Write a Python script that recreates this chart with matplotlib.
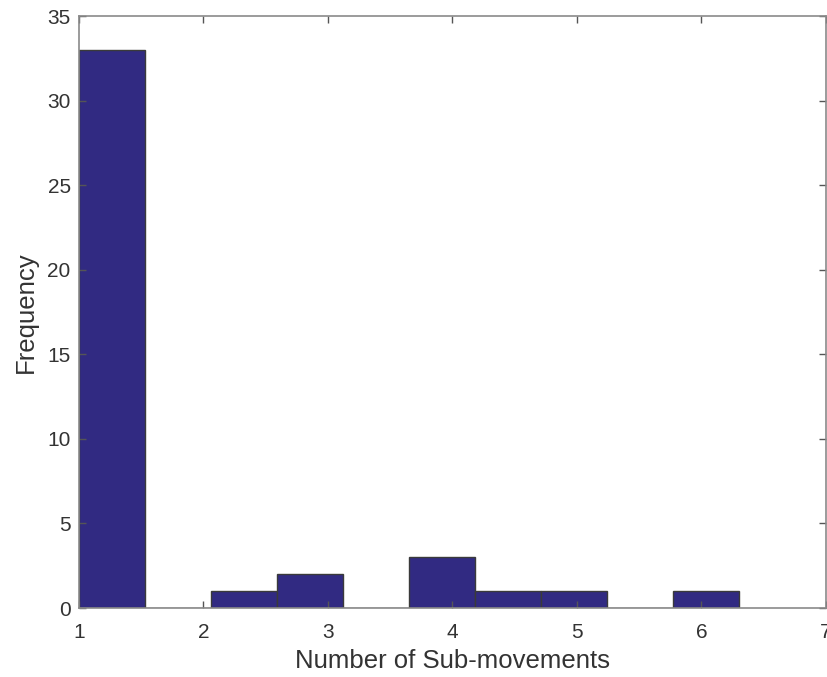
import matplotlib.pyplot as plt
import numpy as np

# histogram data (bin edges and counts)
bin_start = 1.0
bin_width = 0.53
counts = [33, 0, 1, 2, 0, 3, 1, 1, 0, 1]
x_ticks = [1, 2, 3, 4, 5, 6, 7]
y_ticks = [0, 5, 10, 15, 20, 25, 30, 35]

plt.rcParams['font.family'] = ['Liberation Sans', 'DejaVu Sans']

fig = plt.figure(figsize=(8.28, 6.77), dpi=100)
ax = fig.add_axes([79 / 828, 69 / 677, 747 / 828, 592 / 677])

edges = bin_start + bin_width * np.arange(len(counts))
ax.bar(edges, counts, width=bin_width, align="edge",
       color="#312a82", edgecolor="#3a3a3a", linewidth=1.0)

ax.set_xlim(1, 7)
ax.set_ylim(0, 35)
ax.set_xticks(x_ticks)
ax.set_yticks(y_ticks)
ax.tick_params(direction="in", length=5, width=1, color="#555555",
               labelsize=15, labelcolor="#333333", top=True, right=True)
ax.tick_params(axis="x", pad=11)
ax.tick_params(axis="y", pad=6)
for s in ax.spines.values():
    s.set_color("#8a8a8a")
    s.set_linewidth(1.2)

ax.set_xlabel("Number of Sub-movements", fontsize=18.5, color="#333333", labelpad=5)
ax.set_ylabel("Frequency", fontsize=18.5, color="#333333", labelpad=7)

fig.savefig("out.png", dpi=100)
